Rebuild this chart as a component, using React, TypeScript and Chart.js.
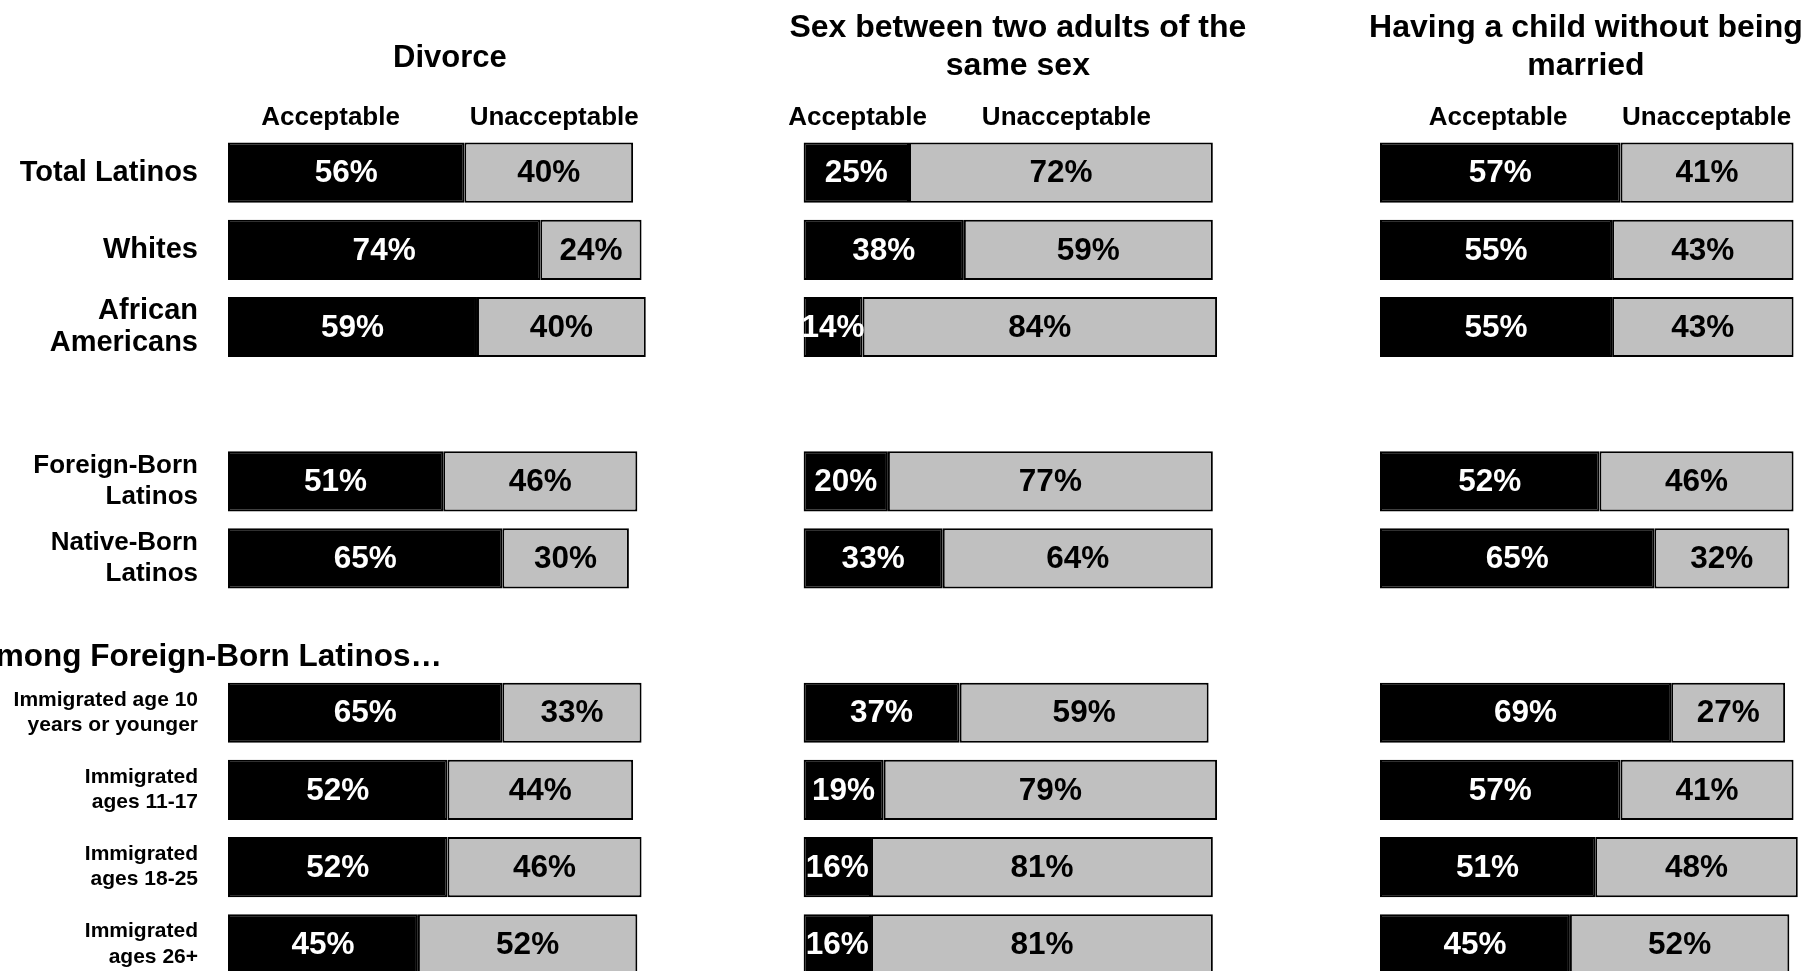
import React, { useEffect, useRef } from 'react';
import { Chart, registerables } from 'chart.js';

Chart.register(...registerables);

// ---------- DATA ----------
const categories: (string | string[])[] = [
  'Total Latinos',
  'Whites',
  ['African', 'Americans'],
  '',
  ['Foreign-Born', 'Latinos'],
  ['Native-Born', 'Latinos'],
  '',
  ['Immigrated age 10', 'years or younger'],
  ['Immigrated', 'ages 11-17'],
  ['Immigrated', 'ages 18-25'],
  ['Immigrated', 'ages 26+'],
];

const seriesNames = ['Acceptable', 'Unacceptable'];
const groupHeading = 'Among Foreign-Born Latinos…';

const divorceTitle = ['Divorce'];
const divorceAcceptable = [56, 74, 59, null, 51, 65, null, 65, 52, 52, 45];
const divorceUnacceptable = [40, 24, 40, null, 46, 30, null, 33, 44, 46, 52];

const sameSexTitle = ['Sex between two adults of the', 'same sex'];
const sameSexAcceptable = [25, 38, 14, null, 20, 33, null, 37, 19, 16, 16];
const sameSexUnacceptable = [72, 59, 84, null, 77, 64, null, 59, 79, 81, 81];

const childTitle = ['Having a child without being', 'married'];
const childAcceptable = [57, 55, 55, null, 52, 65, null, 69, 57, 51, 45];
const childUnacceptable = [41, 43, 43, null, 46, 32, null, 27, 41, 48, 52];

// ---------- LAYOUT / STYLE ----------
const FONT = "'Liberation Sans', Arial, Helvetica, sans-serif";
const CANVAS_H = 1050;
const PAD_TOP = 134.1;
const PAD_BOTTOM = CANVAS_H - 982.8;
const BLACK = '#000000';
const GRAY = '#C0C0C0';

type PanelCfg = {
  title: string[];
  acc: (number | null)[];
  unacc: (number | null)[];
  left: number;
  width: number;
  padLeft: number;
  padRight: number;
  titleX: number; // in scale units
  titleY: number[];
  titleSize: number;
  headerX: number[]; // in scale units
  showLabels: boolean;
};

const panels: PanelCfg[] = [
  {
    title: divorceTitle, acc: divorceAcceptable, unacc: divorceUnacceptable,
    left: 0, width: 680, padLeft: 0, padRight: 30,
    titleX: 52.6, titleY: [58.5], titleSize: 31, headerX: [24.3, 77.3], showLabels: true,
  },
  {
    title: sameSexTitle, acc: sameSexAcceptable, unacc: sameSexUnacceptable,
    left: 690, width: 610, padLeft: 113.5, padRight: 74.5,
    titleX: 50.8, titleY: [28, 66], titleSize: 32, headerX: [12.8, 62.3], showLabels: false,
  },
  {
    title: childTitle, acc: childAcceptable, unacc: childUnacceptable,
    left: 1280, width: 525, padLeft: 100, padRight: 3,
    titleX: 48.8, titleY: [28, 66], titleSize: 32, headerX: [28.0, 77.4], showLabels: false,
  },
];

function makeTextPlugin(cfg: PanelCfg) {
  return {
    id: 'panelText',
    afterDatasetsDraw(chart: any) {
      const ctx = chart.ctx as CanvasRenderingContext2D;
      const xs = chart.scales.x;
      ctx.save();
      ctx.textAlign = 'center';
      ctx.textBaseline = 'middle';
      // value labels
      chart.data.datasets.forEach((ds: any, di: number) => {
        const meta = chart.getDatasetMeta(di);
        meta.data.forEach((el: any, i: number) => {
          const v = ds.data[i];
          if (v == null) return;
          const p = el.getProps(['x', 'base', 'y'], true);
          ctx.fillStyle = di === 0 ? '#ffffff' : '#000000';
          ctx.font = `bold 31.5px ${FONT}`;
          ctx.fillText(`${v}%`, (p.x + p.base) / 2, p.y + 1);
        });
      });
      // title
      ctx.fillStyle = '#000';
      ctx.font = `bold ${cfg.titleSize}px ${FONT}`;
      cfg.title.forEach((line, li) => {
        ctx.fillText(line, xs.getPixelForValue(cfg.titleX), cfg.titleY[li]);
      });
      // series headers
      ctx.font = `bold 26px ${FONT}`;
      seriesNames.forEach((name, si) => {
        ctx.fillText(name, xs.getPixelForValue(cfg.headerX[si]), 117.5);
      });
      // group heading
      if (cfg.showLabels) {
        ctx.textAlign = 'right';
        ctx.font = `bold 31.5px ${FONT}`;
        ctx.fillText(groupHeading, 442, 657.5);
      }
      ctx.restore();
    },
  };
}

function tickFont(c: any) {
  if (c.index >= 7) return { family: FONT, size: 21, weight: 'bold', lineHeight: 1.2 };
  if (c.index >= 4) return { family: FONT, size: 26, weight: 'bold', lineHeight: 1.19 };
  return { family: FONT, size: 29, weight: 'bold', lineHeight: 1.07 };
}

function Panel({ cfg }: { cfg: PanelCfg }) {
  const ref = useRef<HTMLCanvasElement>(null);
  useEffect(() => {
    const canvas = ref.current!;
    const common = {
      borderColor: BLACK,
      borderWidth: 2,
      borderSkipped: false as const,
      barPercentage: 0.78,
      categoryPercentage: 1,
    };
    const yScale: any = {
      stacked: true,
      display: cfg.showLabels,
      grid: { display: false, drawTicks: false },
      border: { display: false },
      ticks: {
        padding: 30,
        color: '#000',
        autoSkip: false,
        font: tickFont,
      },
    };
    if (cfg.showLabels) {
      yScale.afterFit = (scale: any) => {
        scale.width = 228;
      };
    }
    const chart = new Chart(canvas, {
      type: 'bar',
      data: {
        labels: categories,
        datasets: [
          { label: seriesNames[0], data: cfg.acc, backgroundColor: BLACK, ...common },
          { label: seriesNames[1], data: cfg.unacc, backgroundColor: GRAY, ...common },
        ],
      },
      options: {
        indexAxis: 'y',
        animation: false,
        responsive: false,
        devicePixelRatio: 1,
        layout: {
          padding: { top: PAD_TOP, bottom: PAD_BOTTOM, left: cfg.padLeft, right: cfg.padRight },
        },
        plugins: {
          legend: { display: false },
          tooltip: { enabled: false },
          title: { display: false },
        },
        scales: {
          x: { stacked: true, min: 0, max: 100, display: false },
          y: yScale,
        },
      },
      plugins: [makeTextPlugin(cfg)],
    } as any);
    return () => chart.destroy();
  }, [cfg]);
  return (
    <canvas
      ref={ref}
      width={cfg.width}
      height={CANVAS_H}
      style={{ position: 'absolute', left: cfg.left, top: 0, width: cfg.width, height: CANVAS_H }}
    />
  );
}

export default function App() {
  return (
    <div
      style={{
        position: 'absolute',
        left: 0,
        top: 0,
        width: 1805,
        height: 971,
        overflow: 'hidden',
        background: '#fff',
      }}
    >
      {panels.map((p, i) => (
        <Panel key={i} cfg={p} />
      ))}
    </div>
  );
}
